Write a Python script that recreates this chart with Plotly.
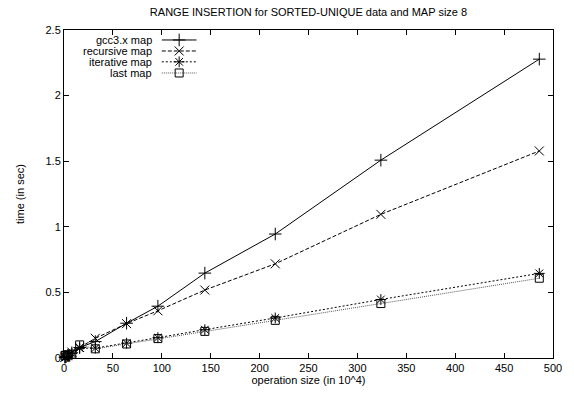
import plotly.graph_objects as go

# ---- data ----
op_size = [1, 2, 4, 8, 16, 32, 64, 96, 144, 216, 324, 486]
gcc_map = [0.005, 0.01, 0.02, 0.04, 0.08, 0.125, 0.265, 0.395, 0.647, 0.945, 1.508, 2.278]
recursive_map = [0.005, 0.01, 0.02, 0.045, 0.08, 0.15, 0.262, 0.36, 0.518, 0.718, 1.095, 1.578]
iterative_map = [0.003, 0.006, 0.012, 0.035, 0.075, 0.075, 0.113, 0.155, 0.216, 0.305, 0.446, 0.645]
last_map = [0.02, 0.02, 0.025, 0.03, 0.1, 0.07, 0.107, 0.148, 0.203, 0.287, 0.415, 0.608]

series_names = ["gcc3.x map", "recursive map", "iterative map", "last map"]
x_ticks = [0, 50, 100, 150, 200, 250, 300, 350, 400, 450, 500]
y_ticks = [0, 0.5, 1, 1.5, 2, 2.5]

# ---- styles ----
FONT = "Liberation Sans, Arial, Helvetica, sans-serif"
styles = [
    dict(dash="solid", color="#000000", symbol="cross-thin-open", size=9),
    dict(dash="4px,2px", color="#000000", symbol="x-thin-open", size=9),
    dict(dash="2px,2px", color="#000000", symbol="asterisk-open", size=9),
    dict(dash="1px,1px", color="#555555", symbol="square-open", size=8),
]
series = [gcc_map, recursive_map, iterative_map, last_map]

fig = go.Figure()
for name, ys, st in zip(series_names, series, styles):
    fig.add_trace(go.Scatter(
        x=op_size, y=ys, mode="lines+markers", name=name, showlegend=False,
        line=dict(color=st["color"], width=1, dash=st["dash"]),
        marker=dict(symbol=st["symbol"], size=st["size"], color="#000000",
                    line=dict(color="#000000", width=1)),
        cliponaxis=False,
    ))

# ---- gnuplot-style legend (text then sample) on an overlay axis ----
leg_rows = [0.9696, 0.936, 0.903, 0.869]
for name, st, yy in zip(series_names, styles, leg_rows):
    fig.add_trace(go.Scatter(
        x=[0.200, 0.271], y=[yy, yy], mode="lines", xaxis="x2", yaxis="y2",
        showlegend=False, hoverinfo="skip",
        line=dict(color=st["color"], width=1, dash=st["dash"]),
    ))
    fig.add_trace(go.Scatter(
        x=[0.2355], y=[yy], mode="markers", xaxis="x2", yaxis="y2",
        showlegend=False, hoverinfo="skip",
        marker=dict(symbol=st["symbol"], size=st["size"], color="#000000",
                    line=dict(color="#000000", width=1)),
    ))
    fig.add_annotation(x=0.185, y=yy, xref="paper", yref="paper", text=name,
                       showarrow=False, xanchor="right", yanchor="middle",
                       font=dict(family=FONT, size=11, color="#000000"))

axis_common = dict(
    showline=True, linecolor="#000000", linewidth=1, mirror="ticks",
    ticks="inside", ticklen=5, tickwidth=1, tickcolor="#000000",
    showgrid=False, zeroline=False,
    tickfont=dict(family=FONT, size=11, color="#000000"),
)

fig.update_layout(
    width=574, height=398,
    margin=dict(l=64, r=19, t=30, b=40),
    paper_bgcolor="#ffffff", plot_bgcolor="#ffffff",
    font=dict(family=FONT, size=11, color="#000000"),
    title=dict(text="RANGE INSERTION for SORTED-UNIQUE data and MAP size 8",
               x=0.5, xref="paper", y=1 - 12 / 398, yref="container",
               xanchor="center", yanchor="middle",
               font=dict(family=FONT, size=11, color="#000000")),
    xaxis=dict(range=[0, 500], tickvals=x_ticks, **axis_common,
               title=dict(text="operation size (in 10^4)", standoff=2,
                          font=dict(family=FONT, size=11, color="#000000"))),
    yaxis=dict(range=[0, 2.5], tickvals=y_ticks, **axis_common),
    xaxis2=dict(overlaying="x", range=[0, 1], visible=False),
    yaxis2=dict(overlaying="y", range=[0, 1], visible=False),
    showlegend=False,
)

fig.add_annotation(x=-0.09, y=0.5, xref="paper", yref="paper",
                   text="time (in sec)", textangle=-90, showarrow=False,
                   xanchor="center", yanchor="middle",
                   font=dict(family=FONT, size=11, color="#000000"))

fig.write_html("out.html")
